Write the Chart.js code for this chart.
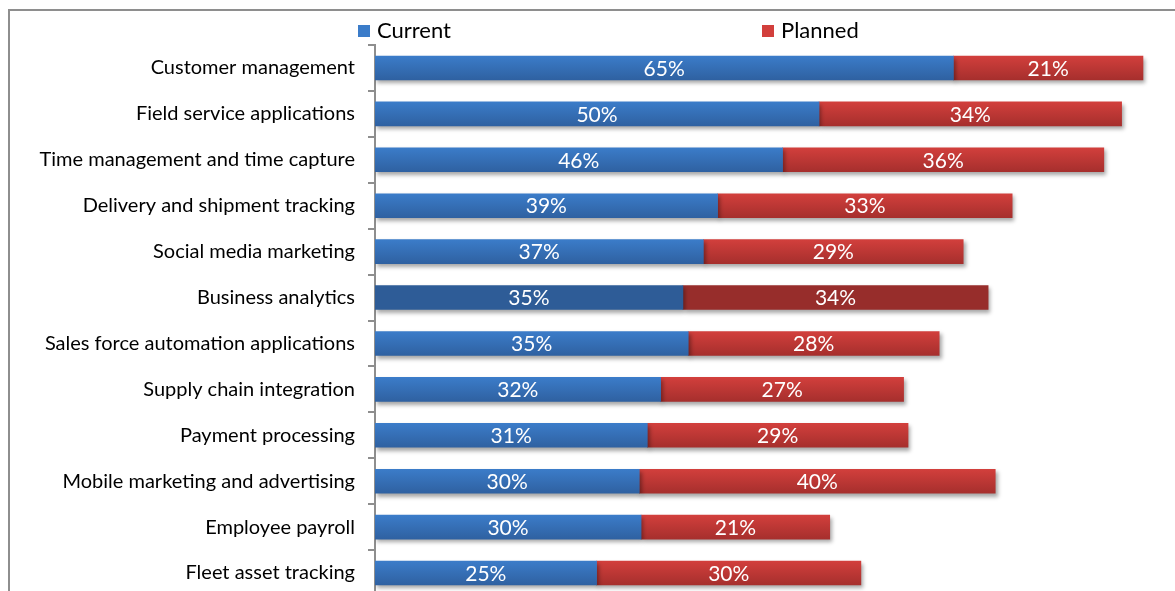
<!DOCTYPE html>
<html>
<head>
<meta charset="utf-8">
<script src="https://cdn.jsdelivr.net/npm/chart.js@4/dist/chart.umd.min.js"></script>
<style>
  html, body { margin: 0; padding: 0; background: #fff; overflow: hidden; }
  body { width: 1175px; height: 591px; position: relative; font-family: Lato, "Open Sans", sans-serif; }
  #frame { position: absolute; left: 8px; top: 9px; width: 1300px; height: 700px; border: 2px solid #8e8e8e; box-sizing: border-box; }
  #grafico { position: absolute; left: 0; top: 0; }
  .leg { position: absolute; top: 17px; font-size: 22px; color: #000; line-height: 26px; }
  .leg i { display: inline-block; width: 12px; height: 12px; margin-right: 7px; vertical-align: 1px; }
</style>
</head>
<body>
<div id="frame"></div>
<canvas id="grafico" width="1175" height="621"></canvas>
<div id="legenda"></div>
<script>
const categorias = [
  "Customer management",
  "Field service applications",
  "Time management and time capture",
  "Delivery and shipment tracking",
  "Social media marketing",
  "Business analytics",
  "Sales force automation applications",
  "Supply chain integration",
  "Payment processing",
  "Mobile marketing and advertising",
  "Employee payroll",
  "Fleet asset tracking"
];
const atual = [65.0, 49.9, 45.8, 38.5, 36.9, 34.6, 35.2, 32.1, 30.6, 29.7, 29.9, 24.9];
const planejado = [21.3, 34.0, 36.1, 33.1, 29.2, 34.3, 28.2, 27.3, 29.3, 40.0, 21.2, 29.7];
const destaque = 5; // Business analytics is shaded darker

const cores = {
  Current: { topo: "#3b7cc9", base: "#2f61a1", escuro: "#2e5c97" },
  Planned: { topo: "#d23f3c", base: "#a62f2d", escuro: "#972d2b" }
};

function corBarra(serie) {
  return function (ctx) {
    const c = cores[serie];
    if (ctx.type !== "data") return c.topo;
    if (ctx.dataIndex === destaque) return c.escuro;
    const y = ctx.chart.scales.y;
    if (!y) return c.topo;
    const cy = y.getPixelForValue(ctx.dataIndex);
    if (!isFinite(cy)) return c.topo;
    const g = ctx.chart.ctx.createLinearGradient(0, cy - 12, 0, cy + 12);
    g.addColorStop(0, c.topo);
    g.addColorStop(1, c.base);
    return g;
  };
}

const sombra = {
  id: "sombra",
  beforeDatasetsDraw(chart) {
    const ctx = chart.ctx;
    ctx.save();
    ctx.shadowColor = "rgba(0,0,0,0.35)";
    ctx.shadowBlur = 4;
    ctx.shadowOffsetX = 2;
    ctx.shadowOffsetY = 3;
  },
  afterDatasetsDraw(chart) {
    chart.ctx.restore();
  }
};

const rotulos = {
  id: "rotulos",
  afterDraw(chart) {
    const ctx = chart.ctx;
    ctx.save();
    ctx.fillStyle = "#ffffff";
    ctx.font = "21px Lato, 'Open Sans', sans-serif";
    ctx.textAlign = "center";
    ctx.textBaseline = "middle";
    chart.data.datasets.forEach((ds, i) => {
      chart.getDatasetMeta(i).data.forEach((bar, j) => {
        const p = bar.getProps(["x", "y", "base"], true);
        ctx.fillText(Math.round(ds.data[j]) + "%", (p.x + p.base) / 2, p.y + 1);
      });
    });
    ctx.restore();
  }
};

const canvas = document.getElementById("grafico");
const grafico = new Chart(canvas, {
  type: "bar",
  data: {
    labels: categorias,
    datasets: [
      { label: "Current", data: atual, backgroundColor: corBarra("Current"), barThickness: 24 },
      { label: "Planned", data: planejado, backgroundColor: corBarra("Planned"), barThickness: 24 }
    ]
  },
  options: {
    responsive: false,
    animation: false,
    indexAxis: "y",
    layout: { padding: { top: 45, right: 8, bottom: 4, left: 0 } },
    plugins: {
      legend: { display: false },
      tooltip: { enabled: false }
    },
    scales: {
      x: { stacked: true, display: false, min: 0, max: 89 },
      y: {
        stacked: true,
        afterFit: (scale) => { scale.width = 375; },
        border: { display: true, color: "#8e8e8e", width: 2 },
        grid: { drawOnChartArea: false, offset: true, tickLength: 7, color: "#8e8e8e", lineWidth: 2 },
        ticks: { color: "#000", padding: 13, font: { family: "Lato, 'Open Sans', sans-serif", size: 20 } }
      }
    }
  },
  plugins: [sombra, rotulos]
});
grafico.update();

// legend built from the datasets
const legenda = document.getElementById("legenda");
const posLegenda = [358, 762];
grafico.data.datasets.forEach((ds, i) => {
  const el = document.createElement("div");
  el.className = "leg";
  el.style.left = posLegenda[i] + "px";
  el.innerHTML = '<i style="background:' + cores[ds.label].topo + '"></i>' + ds.label;
  legenda.appendChild(el);
});
</script>
</body>
</html>
